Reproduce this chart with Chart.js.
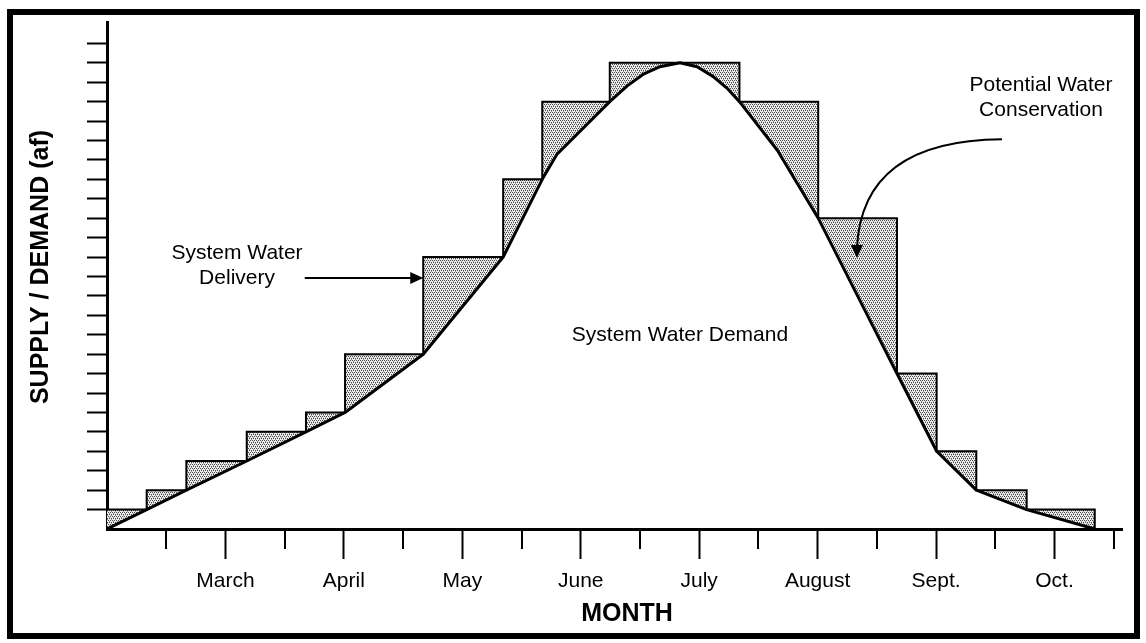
<!DOCTYPE html>
<html lang="en">
<head>
  <meta charset="UTF-8">
  <title>System Water Delivery and Demand</title>
  <script src="https://cdn.jsdelivr.net/npm/chart.js"></script>
  <style>
    body {
      margin: 0;
      background: #fff;
    }
    canvas {
      display: block;
    }
  </style>
</head>
<body>
  <canvas id="chart" width="1146" height="643"></canvas>

  <script>
    // x runs in months from the start of February, y in af (one tick = 1 unit)
    const monthNames = ['March', 'April', 'May', 'June', 'July', 'August', 'Sept.', 'Oct.'];
    const monthTicks = [1, 2, 3, 4, 5, 6, 7, 8];
    const halfMonthTicks = [0.5, 1.5, 2.5, 3.5, 4.5, 5.5, 6.5, 7.5, 8.5];
    const afTicks = [1, 2, 3, 4, 5, 6, 7, 8, 9, 10, 11, 12, 13, 14, 15, 16, 17, 18, 19, 20, 21, 22, 23, 24, 25];

    // stepped delivery: each level is held from its month until the next one
    const deliveryMonths = [0, 0.335, 0.67, 1.18, 1.68, 2.01, 2.67, 3.345, 3.675, 4.245, 5.34, 6.005, 6.67, 7.005, 7.34, 7.765, 8.34];
    const deliveryAf = [1, 2, 3.5, 5, 6, 9, 14, 18, 22, 24, 22, 16, 8, 4, 2, 1, 0];

    // demand curve, read point by point (denser round the peak)
    const demandMonths = [0, 0.335, 0.67, 1.18, 1.68, 2.01, 2.67, 3.345, 3.675, 3.8, 4.245, 4.39, 4.525, 4.669, 4.838, 4.982, 5.116, 5.234, 5.34, 5.66, 6.005, 6.67, 7.005, 7.34, 7.765, 8.34];
    const demandAf = [0, 1, 2, 3.5, 5, 6, 9, 14, 18, 19.3, 22, 22.8, 23.4, 23.8, 24, 23.8, 23.3, 22.7, 22, 19.5, 16, 8, 4, 2, 1, 0];

    const canvas = document.getElementById('chart');
    const ctx = canvas.getContext('2d');

    // stippled grey like the scanned original
    const tile = document.createElement('canvas');
    tile.width = 4;
    tile.height = 4;
    const t = tile.getContext('2d');
    t.fillStyle = '#ececec';
    t.fillRect(0, 0, 4, 4);
    t.fillStyle = '#4a4a4a';
    [[0, 0], [2, 0], [1, 2], [3, 2]].forEach(([a, b]) => t.fillRect(a, b, 1, 1));
    t.fillStyle = '#9a9a9a';
    [[1, 1], [3, 3]].forEach(([a, b]) => t.fillRect(a, b, 1, 1));
    const shade = ctx.createPattern(tile, 'repeat');

    const FONT = '"Liberation Sans", Arial, sans-serif';

    function arrowHead(c, tipX, tipY, dx, dy, len, half) {
      // dx, dy = unit direction the arrow points to
      const bx = tipX - dx * len, by = tipY - dy * len;
      c.beginPath();
      c.moveTo(tipX, tipY);
      c.lineTo(bx - dy * half, by + dx * half);
      c.lineTo(bx + dy * half, by - dx * half);
      c.closePath();
      c.fill();
    }

    const notes = {
      id: 'notes',
      afterDraw(chart) {
        const c = chart.ctx;
        const x = chart.scales.x, y = chart.scales.y;
        const px = v => x.getPixelForValue(v);
        const py = v => y.getPixelForValue(v);
        c.save();
        c.strokeStyle = '#000';
        c.fillStyle = '#000';

        // short half-month ticks
        c.lineWidth = 2;
        halfMonthTicks.forEach(m => {
          const xx = Math.round(px(m));
          c.beginPath();
          c.moveTo(xx, y.bottom);
          c.lineTo(xx, y.bottom + 20);
          c.stroke();
        });

        c.font = '21px ' + FONT;
        c.textAlign = 'center';
        c.textBaseline = 'middle';
        c.fillText('System Water', px(1.098), py(14.2));
        c.fillText('Delivery', px(1.098), py(12.92));
        c.fillText('System Water Demand', px(4.838), py(9.98));
        c.fillText('Potential Water', px(7.886), py(22.85));
        c.fillText('Conservation', px(7.886), py(21.56));

        // straight arrow to the delivery steps
        c.lineWidth = 2;
        const ay = py(12.92);
        c.beginPath();
        c.moveTo(px(1.67), ay);
        c.lineTo(px(2.67) - 10, ay);
        c.stroke();
        arrowHead(c, px(2.67), ay, 1, 0, 13, 6);

        // curved arrow to the conservation area
        const sx = px(7.557), sy = py(20.07);
        const cx = px(6.375), cy = py(20.02);
        const ex = px(6.332), ey = py(13.95);
        c.beginPath();
        c.moveTo(sx, sy);
        c.quadraticCurveTo(cx, cy, ex, ey - 10);
        c.stroke();
        arrowHead(c, ex, ey, 0, 1, 13, 6);

        // axis titles
        c.font = 'bold 25px ' + FONT;
        c.fillText('MONTH', 627, 614);
        c.save();
        c.translate(41, 267);
        c.rotate(-Math.PI / 2);
        c.fillText('SUPPLY / DEMAND (af)', 0, 0);
        c.restore();

        // frame
        c.lineWidth = 6;
        c.strokeRect(10, 12, 1127, 624);
        c.restore();
      }
    };

    new Chart(ctx, {
      type: 'line',
      data: {
        datasets: [
          {
            label: 'System Water Delivery',
            data: deliveryMonths.map((m, i) => ({ x: m, y: deliveryAf[i] })),
            stepped: 'before',
            borderColor: '#000',
            borderWidth: 2,
            backgroundColor: shade,
            fill: '+1',
            pointRadius: 0
          },
          {
            label: 'System Water Demand',
            data: demandMonths.map((m, i) => ({ x: m, y: demandAf[i] })),
            tension: 0,
            borderColor: '#000',
            borderWidth: 3,
            borderJoinStyle: 'round',
            fill: false,
            pointRadius: 0,
            order: -1
          }
        ]
      },
      options: {
        responsive: false,
        animation: false,
        layout: { padding: { top: 22, right: 24, left: 0, bottom: 0 } },
        plugins: {
          legend: { display: false },
          tooltip: { enabled: false }
        },
        scales: {
          x: {
            type: 'linear',
            min: 0,
            max: 8.57,
            afterFit: s => { s.height = 114; },
            afterBuildTicks: s => { s.ticks = monthTicks.map(v => ({ value: v })); },
            border: { display: true, color: '#000', width: 3 },
            grid: {
              drawOnChartArea: false,
              tickLength: 30,
              tickWidth: 2,
              tickColor: '#000'
            },
            ticks: {
              autoSkip: false,
              maxRotation: 0,
              padding: 10,
              color: '#000',
              font: { family: FONT, size: 21 },
              callback: v => monthNames[monthTicks.indexOf(v)] || ''
            }
          },
          y: {
            type: 'linear',
            min: 0,
            max: 26.1,
            afterFit: s => { s.width = 107; },
            afterBuildTicks: s => { s.ticks = afTicks.map(v => ({ value: v })); },
            border: { display: true, color: '#000', width: 3 },
            grid: {
              drawOnChartArea: false,
              tickLength: 20,
              tickWidth: 2,
              tickColor: '#000'
            },
            ticks: { display: false }
          }
        }
      },
      plugins: [notes]
    });
  </script>
</body>
</html>
